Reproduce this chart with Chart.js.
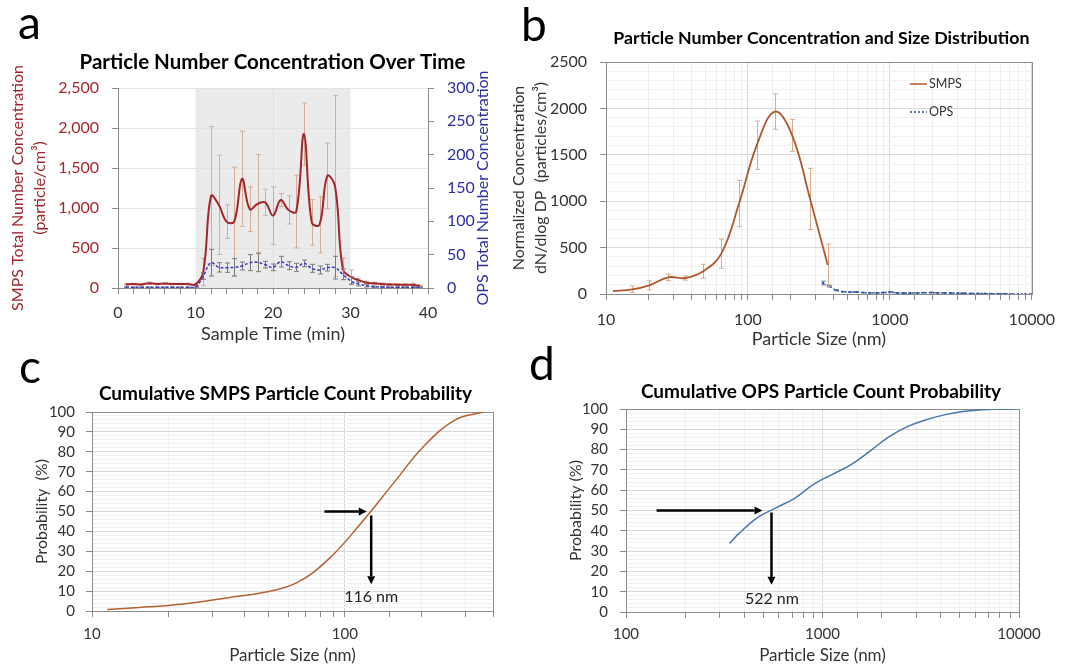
<!DOCTYPE html>
<html>
<head>
<meta charset="utf-8">
<script src="https://cdn.jsdelivr.net/npm/chart.js@4.4.1/dist/chart.umd.min.js"></script>
<style>
  body { margin: 0; background: #fff; }
  #wrap { position: relative; width: 1065px; height: 667px; overflow: hidden; background: #fff; }
  canvas { position: absolute; }
  .tag { position: absolute; font-family: Lato, "Open Sans", sans-serif; font-size: 46px; line-height: 1; color: #000; }
</style>
</head>
<body>
<div id="wrap">
  <canvas id="chartA" width="500" height="300" style="left:0;top:45px"></canvas>
  <canvas id="chartB" width="565" height="330" style="left:500px;top:20px"></canvas>
  <canvas id="chartC" width="530" height="302" style="left:0;top:365px"></canvas>
  <canvas id="chartD" width="535" height="305" style="left:530px;top:362px"></canvas>
  <div class="tag" style="left:18px;top:-1px">a</div>
  <div class="tag" style="left:521px;top:1px">b</div>
  <div class="tag" style="left:19px;top:343px">c</div>
  <div class="tag" style="left:529px;top:340px">d</div>
</div>
<script>
Chart.defaults.font.family = 'Lato, "Open Sans", "DejaVu Sans", sans-serif';
Chart.defaults.color = '#333';
Chart.defaults.animation = false;

// a - total number concentration vs time (mean +/- sd)
const sampleTime = [1,2,3,4,5,6,7,8,9,10,11,12,13,14,15,16,17,18,19,20,21,22,23,24,25,26,27,28,29,30,31,32,33,34,35,36,37,38,39];
const smpsTotal = [45,50,45,60,50,55,50,50,50,45, 200,1150,1040,830,830,1365,985,1050,1070,905, 1100,975,955,1925,820,790,1400,1275,240,140, 100,70,58,50,45,42,40,40,25];
const smpsTotalErr = [10,10,10,15,10,10,10,10,10,10, 170,870,620,210,680,595,280,620,165,360, 80,175,455,390,285,350,410,1130,135,85, 20,15,15,12,12,12,12,20,10];
const opsTotal = [1,1,1,1,1,1,1,1,1,1.5, 18,38,31,30.5,31,33,38,38.5,35,31, 39.5,33.5,31,37,29.5,27,30.5,30.5,20.5,11, 6,3.5,2,1.5,1,1,1,1,1];
const opsTotalErr = [0.5,0.5,0.5,0.5,0.5,0.5,0.5,0.5,0.5,0.5, 5,20,7,7,13,6,12,14,5,5, 8,6,6,5,6,6,5,17,8,6, 3,2,1,1,0.5,0.5,0.5,0.5,0.5];
const exposureWindow = [10, 30];

// b - size distribution
const smpsSize = [11.2, 15.3, 20.2, 27.4, 36.3, 48.4, 64.9, 86.6, 115.5, 155, 205, 274, 365];
const smpsDist = [32, 50, 93, 180, 172, 245, 435, 975, 1604, 1965, 1710, 1025, 312];
const smpsDistErr = [0, 35, 50, 36, 22, 75, 158, 250, 260, 190, 172, 330, 226];
const opsSize = [337, 374, 420, 465, 520, 580, 650, 720, 810, 900, 1000, 1120, 1250, 1390, 1560, 1730, 1950, 2160, 2420, 2690, 3010, 3340, 3750, 4160, 4670, 5180, 5820, 6450, 7240, 8030, 9000, 10000];
const opsDist = [118, 85, 40, 25, 20, 22, 15, 12, 12, 15, 20, 12, 10, 10, 12, 14, 15, 12, 12, 10, 8, 8, 6, 6, 5, 4, 3, 2, 1, 1, 0.5, 0];
const opsDistErr = [20, 10, 5, 3, 3, 3, 2, 2, 2, 3, 6, 2, 2, 2, 2, 2, 3, 2, 2, 2, 2, 2, 1, 1, 1, 1, 1, 1, 0, 0, 0, 0];

// c, d - cumulative probability
const smpsCumSize = [11.5, 15.4, 20.5, 27.4, 36.5, 48.7, 64.9, 86.6, 115.5, 154, 205, 274, 354];
const smpsCumProb = [0.8, 1.8, 2.9, 4.8, 7.2, 9.5, 14.4, 26.3, 44, 63.5, 82.8, 96.2, 100];
const opsCumSize = [337, 374, 465, 579, 721, 897, 1117, 1391, 1732, 2156, 2685, 3343, 4162, 5182, 6451, 8032, 9500];
const opsCumProb = [33.8, 38.5, 46.4, 51.3, 56, 62.8, 67.7, 72.5, 79, 86, 91.2, 94.6, 97.1, 98.8, 99.6, 99.9, 100];

// median markers (data coords)
const smpsArrows = [[83, 50, 122, 50], [127, 48, 127, 13.5]];
const smpsMedianLabel = ['116 nm', 127, 7];
const opsArrows = [[143, 50, 495, 50], [550, 49, 550, 13.4]];
const opsMedianLabel = ['522 nm', 553, 6.6];

const AXIS = '#8c8c8c';
const FONT = 'Lato, "Open Sans", sans-serif';
const pts = (xs, ys) => xs.map((x, i) => ({ x, y: ys[i] }));
const isDecade = v => Math.abs(Math.log10(v) - Math.round(Math.log10(v))) < 1e-6;

// error bars drawn just under their own series
const errorBars = {
  id: 'errorBars',
  beforeDatasetDraw(chart, args) {
    const ds = chart.data.datasets[args.index];
    if (!ds.errors) return;
    const xs = chart.scales[args.meta.xAxisID];
    const ys = chart.scales[args.meta.yAxisID];
    const ctx = chart.ctx;
    ctx.save();
    ctx.strokeStyle = ds.errorColor;
    ctx.lineWidth = 1;
    ds.data.forEach((p, i) => {
      const e = ds.errors[i];
      if (!e) return;
      const x = Math.round(xs.getPixelForValue(p.x)) + 0.5;
      const top = ys.getPixelForValue(p.y + e);
      const bot = ys.getPixelForValue(Math.max(p.y - e, 0));
      ctx.beginPath();
      ctx.moveTo(x, top); ctx.lineTo(x, bot);
      ctx.moveTo(x - 2.5, top); ctx.lineTo(x + 2.5, top);
      ctx.moveTo(x - 2.5, bot); ctx.lineTo(x + 2.5, bot);
      ctx.stroke();
    });
    ctx.restore();
  }
};

// chart title placed relative to the plot area (Excel centres it on the chart object)
const panelTitle = {
  id: 'panelTitle',
  afterDraw(chart, args, opts) {
    const a = chart.chartArea, ctx = chart.ctx;
    ctx.save();
    ctx.font = `bold ${opts.size}px ${FONT}`;
    ctx.fillStyle = '#000'; ctx.textAlign = 'center'; ctx.textBaseline = 'middle';
    ctx.fillText(opts.text, (a.left + a.right) / 2 + opts.dx, a.top + opts.dy);
    ctx.restore();
  }
};

const plotBox = {
  id: 'plotBox',
  beforeDatasetsDraw(chart) {
    const a = chart.chartArea, ctx = chart.ctx;
    ctx.save();
    ctx.strokeStyle = AXIS;
    ctx.lineWidth = 1;
    ctx.strokeRect(Math.round(a.left) + 0.5, Math.round(a.top) + 0.5, Math.round(a.right - a.left), Math.round(a.bottom - a.top));
    ctx.restore();
  }
};

function drawArrow(ctx, x1, y1, x2, y2) {
  const ang = Math.atan2(y2 - y1, x2 - x1), head = 8, w = 4;
  const bx = x2 - head * Math.cos(ang), by = y2 - head * Math.sin(ang);
  ctx.beginPath(); ctx.moveTo(x1, y1); ctx.lineTo(bx, by); ctx.stroke();
  ctx.beginPath(); ctx.moveTo(x2, y2);
  ctx.lineTo(bx + w * Math.sin(ang), by - w * Math.cos(ang));
  ctx.lineTo(bx - w * Math.sin(ang), by + w * Math.cos(ang));
  ctx.closePath(); ctx.fill();
}

const medianArrows = {
  id: 'medianArrows',
  afterDatasetsDraw(chart, args, opts) {
    const xs = chart.scales.x, ys = chart.scales.y, ctx = chart.ctx;
    ctx.save();
    ctx.strokeStyle = '#000'; ctx.fillStyle = '#000'; ctx.lineWidth = 2.5;
    opts.arrows.forEach(([x1, y1, x2, y2]) => drawArrow(ctx,
      xs.getPixelForValue(x1), ys.getPixelForValue(y1), xs.getPixelForValue(x2), ys.getPixelForValue(y2)));
    const [txt, lx, ly] = opts.label;
    ctx.font = `16px ${FONT}`;
    ctx.fillStyle = '#222'; ctx.textAlign = 'center'; ctx.textBaseline = 'middle';
    ctx.fillText(txt, xs.getPixelForValue(lx), ys.getPixelForValue(ly));
    ctx.restore();
  }
};

function logScale(min, max, size, height, titleSize, pad, tickPad) {
  return {
    type: 'logarithmic', min, max,
    afterFit: s => { s.height = height; },
    border: { color: AXIS },
    grid: { color: c => isDecade(c.tick.value) ? '#d9d9d9' : '#efefef', tickColor: AXIS, tickLength: 6 },
    ticks: { autoSkip: false, maxRotation: 0, padding: tickPad, font: { size }, color: '#333',
      callback: v => isDecade(v) ? String(v) : '' },
    title: { display: true, text: 'Particle Size (nm)', font: { size: titleSize }, color: '#333', padding: { top: 0, bottom: pad } }
  };
}

// ---------- a ----------
new Chart(document.getElementById('chartA'), {
  type: 'line',
  data: {
    datasets: [
      { label: 'OPS', data: pts(sampleTime, opsTotal), errors: opsTotalErr, errorColor: '#7a7a7a',
        yAxisID: 'y2', borderColor: '#3b3bc0', borderWidth: 1.5, borderDash: [3, 2], pointRadius: 0, tension: 0.4 },
      { label: 'SMPS', data: pts(sampleTime, smpsTotal), errors: smpsTotalErr, errorColor: '#d3ae95',
        yAxisID: 'y', borderColor: '#a3262a', borderWidth: 2, pointRadius: 0, tension: 0.4 }
    ]
  },
  options: {
    responsive: false,
    layout: { padding: { top: 43, left: 0, right: 0, bottom: 0 } },
    plugins: {
      legend: { display: false },
      tooltip: { enabled: false },
      panelTitle: { text: 'Particle Number Concentration Over Time', size: 20.5, dx: -0.5, dy: -26 }
    },
    scales: {
      x: {
        type: 'linear', min: 0, max: 40,
        afterFit: s => { s.height = 57; },
        border: { color: AXIS },
        grid: { color: c => (c.tick.value === 20) ? '#dedede' : 'rgba(0,0,0,0)', tickColor: AXIS, tickLength: 6 },
        ticks: { stepSize: 2, autoSkip: false, maxRotation: 0, padding: 9, font: { size: 16 }, color: '#333',
          callback: v => v % 10 === 0 ? String(v) : '' },
        title: { display: true, text: 'Sample Time (min)', font: { size: 18 }, color: '#333', padding: { top: 0, bottom: 0.2 } }
      },
      y: {
        position: 'left', min: 0, max: 2500,
        afterFit: s => { s.width = 118; },
        border: { color: AXIS },
        grid: { color: '#e3e3e3', tickColor: AXIS, tickLength: 6 },
        ticks: { stepSize: 500, padding: 13, font: { size: 16 }, color: '#a0282d',
          callback: v => v.toLocaleString('en-US') },
        title: { display: true, text: ['SMPS Total Number Concentration', '(particle/cm³)'], color: '#a0282d',
          font: { size: 16, lineHeight: 1.35 }, padding: { top: 7, bottom: 0 } }
      },
      y2: {
        position: 'right', min: 0, max: 300,
        afterFit: s => { s.width = 72; },
        border: { color: AXIS },
        grid: { drawOnChartArea: false, tickColor: AXIS, tickLength: 6 },
        ticks: { stepSize: 50, padding: 13, font: { size: 16 }, color: '#2e2ea6' }
      }
    }
  },
  plugins: [errorBars, panelTitle, {
    id: 'exposureShade',
    beforeDraw(chart) {
      const a = chart.chartArea, xs = chart.scales.x, ctx = chart.ctx;
      const x1 = xs.getPixelForValue(exposureWindow[0]), x2 = xs.getPixelForValue(exposureWindow[1]);
      ctx.save();
      ctx.fillStyle = '#ebebeb';
      ctx.fillRect(x1, a.top, x2 - x1, a.bottom - a.top);
      ctx.restore();
    },
    afterDraw(chart) {
      // right axis title reads bottom-to-top like the left one
      const a = chart.chartArea, ctx = chart.ctx;
      ctx.save();
      ctx.translate(483, (a.top + a.bottom) / 2);
      ctx.rotate(-Math.PI / 2);
      ctx.font = `16px ${FONT}`;
      ctx.fillStyle = '#2e2ea6'; ctx.textAlign = 'center'; ctx.textBaseline = 'middle';
      ctx.fillText('OPS Total Number Concentration', 0, 0);
      ctx.restore();
    }
  }]
});

// ---------- b ----------
new Chart(document.getElementById('chartB'), {
  type: 'line',
  data: {
    datasets: [
      { label: 'SMPS', data: pts(smpsSize, smpsDist), errors: smpsDistErr, errorColor: '#d8ac8a',
        borderColor: '#b0582b', borderWidth: 1.8, pointRadius: 0, tension: 0.4 },
      { label: 'OPS', data: pts(opsSize, opsDist), errors: opsDistErr, errorColor: '#6b7fb0',
        borderColor: '#2f4f9a', borderWidth: 1.3, borderDash: [2, 2], pointRadius: 1, pointBackgroundColor: '#2f4f9a',
        pointBorderWidth: 0, tension: 0.3 }
    ]
  },
  options: {
    responsive: false,
    layout: { padding: { left: 0, top: 42, bottom: 0, right: 27 } },
    plugins: {
      legend: { display: false },
      tooltip: { enabled: false },
      panelTitle: { text: 'Particle Number Concentration and Size Distribution', size: 17.8, dx: 2.5, dy: -24 }
    },
    scales: {
      x: logScale(10, 10000, 16, 56, 18, 0, 10),
      y: {
        min: 0, max: 2500,
        afterFit: s => { s.width = 106; },
        border: { color: AXIS },
        grid: { color: c => c.tick.value % 500 === 0 ? '#d9d9d9' : '#f1f1f1',
          tickColor: c => c.tick.value % 500 === 0 ? AXIS : 'rgba(0,0,0,0)', tickLength: 6 },
        ticks: { stepSize: 100, autoSkip: false, padding: 13, font: { size: 16 }, color: '#333',
          callback: v => v % 500 === 0 ? String(v) : '' },
        title: { display: true, text: ['Normalized Concentration', 'dN/dlog DP  (particles/cm³)'], color: '#333',
          font: { size: 16, lineHeight: 1.375 }, padding: { top: 8, bottom: 0 } }
      }
    }
  },
  plugins: [plotBox, errorBars, panelTitle, {
    id: 'sizeLegend',
    afterDraw(chart) {
      const ctx = chart.ctx;
      const items = [['SMPS', '#b0582b', []], ['OPS', '#2f4f9a', [2, 2]]];
      ctx.save();
      ctx.font = `12.5px ${FONT}`;
      ctx.textBaseline = 'middle';
      items.forEach(([name, col, dash], i) => {
        const y = 64 + i * 28;
        ctx.strokeStyle = col; ctx.lineWidth = 1.5; ctx.setLineDash(dash);
        ctx.beginPath(); ctx.moveTo(410, y); ctx.lineTo(427, y); ctx.stroke();
        ctx.fillStyle = '#333';
        ctx.fillText(name, 429, y);
      });
      ctx.restore();
    }
  }]
});

// ---------- c ----------
new Chart(document.getElementById('chartC'), {
  type: 'line',
  data: { datasets: [{ label: 'SMPS', data: pts(smpsCumSize, smpsCumProb), borderColor: '#b5622e',
    borderWidth: 1.5, pointRadius: 0, tension: 0.4 }] },
  options: {
    responsive: false,
    layout: { padding: { left: 0, top: 47, bottom: 0, right: 37 } },
    plugins: {
      legend: { display: false },
      tooltip: { enabled: false },
      panelTitle: { text: 'Cumulative SMPS Particle Count Probability', size: 19, dx: -7, dy: -18 },
      medianArrows: { arrows: smpsArrows, label: smpsMedianLabel }
    },
    scales: {
      x: logScale(10, 385, 15, 56, 17, 0.8, 8),
      y: {
        min: 0, max: 100,
        afterFit: s => { s.width = 92; },
        border: { color: AXIS },
        grid: { color: c => c.tick.value % 10 === 0 ? '#d9d9d9' : '#f1f1f1',
          tickColor: c => c.tick.value % 10 === 0 ? AXIS : 'rgba(0,0,0,0)', tickLength: 6 },
        ticks: { stepSize: 2, autoSkip: false, padding: 11, font: { size: 15 }, color: '#333',
          callback: v => v % 10 === 0 ? String(v) : '' },
        title: { display: true, text: 'Probability  (%)', color: '#333', font: { size: 16 }, padding: { top: 32.4, bottom: 0 } }
      }
    }
  },
  plugins: [plotBox, medianArrows, panelTitle]
});

// ---------- d ----------
new Chart(document.getElementById('chartD'), {
  type: 'line',
  data: { datasets: [{ label: 'OPS', data: pts(opsCumSize, opsCumProb), borderColor: '#4a78aa',
    borderWidth: 1.5, pointRadius: 0, tension: 0.4 }] },
  options: {
    responsive: false,
    layout: { padding: { left: 0, top: 47, bottom: 0, right: 46 } },
    plugins: {
      legend: { display: false },
      tooltip: { enabled: false },
      panelTitle: { text: 'Cumulative OPS Particle Count Probability', size: 19, dx: -1.5, dy: -17.5 },
      medianArrows: { arrows: opsArrows, label: opsMedianLabel }
    },
    scales: {
      x: logScale(100, 10000, 15, 55, 17, 0.8, 7),
      y: {
        min: 0, max: 100,
        afterFit: s => { s.width = 96; },
        border: { color: AXIS },
        grid: { color: c => c.tick.value % 10 === 0 ? '#d9d9d9' : '#f1f1f1',
          tickColor: c => c.tick.value % 10 === 0 ? AXIS : 'rgba(0,0,0,0)', tickLength: 6 },
        ticks: { stepSize: 2, autoSkip: false, padding: 12, font: { size: 15 }, color: '#333',
          callback: v => v % 10 === 0 ? String(v) : '' },
        title: { display: true, text: 'Probability (%)', color: '#333', font: { size: 16 }, padding: { top: 36.4, bottom: 0 } }
      }
    }
  },
  plugins: [plotBox, medianArrows, panelTitle]
});
</script>
</body>
</html>
